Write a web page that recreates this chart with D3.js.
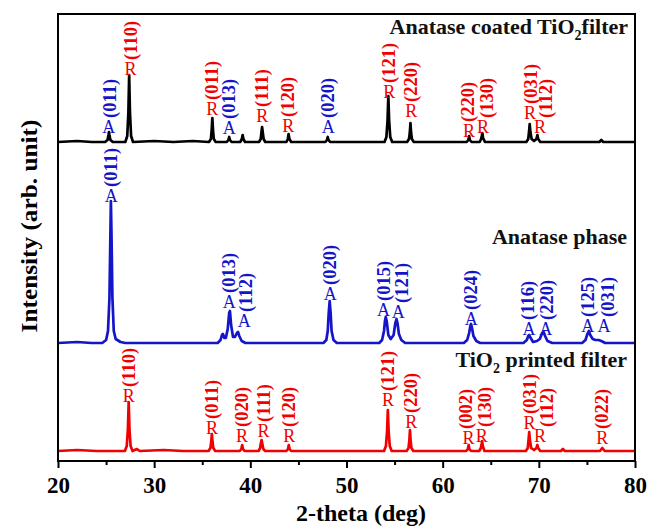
<!DOCTYPE html>
<html>
<head>
<meta charset="utf-8">
<script src="https://cdn.jsdelivr.net/npm/d3@7"></script>
<style>
  html, body { margin: 0; padding: 0; background: #ffffff; }
  svg { display: block; font-family: "Liberation Serif", "Times New Roman", serif; }
</style>
</head>
<body>
<svg id="chart" width="650" height="527"></svg>
<script>
// ---------------- DATA ----------------
const xTicks = [20, 30, 40, 50, 60, 70, 80];
const xMinorTicks = [25, 35, 45, 55, 65, 75];
const seriesNames = ["Anatase coated TiO2 filter", "Anatase phase", "TiO2 printed filter"];

// Intensity (arb. unit) vs 2-theta, each relative to its own baseline
const coatedPattern = [
  [20,0],[22,1],[23.5,0],
  [24.9,0],[25.15,2],[25.25,7],[25.3,10],[25.35,7],[25.45,2],[25.7,0],
  [27.0,0],[27.2,6],[27.32,30],[27.4,67],[27.48,30],[27.6,6],[27.8,0],
  [30,1],[32,0],[34,1],
  [35.7,0],[35.9,3],[35.98,12],[36.05,24],[36.12,12],[36.2,3],[36.4,0],
  [37.55,0],[37.72,2],[37.8,5],[37.88,2],[38.05,0],
  [38.95,0],[39.12,3],[39.2,7],[39.28,3],[39.45,0],
  [40.9,0],[41.08,3],[41.15,9],[41.22,15],[41.3,9],[41.38,3],[41.55,0],
  [43.75,0],[43.9,3],[43.98,8],[44.06,3],[44.25,0],
  [47.8,0],[47.97,2],[48.05,5],[48.13,2],[48.3,0],
  [53.95,0],[54.15,5],[54.27,22],[54.35,46],[54.43,22],[54.55,5],[54.75,0],
  [56.3,0],[56.5,3],[56.58,9],[56.65,19],[56.72,9],[56.8,3],[57.0,0],
  [62.5,0],[62.67,2],[62.75,6],[62.83,2],[63.0,0],
  [63.85,0],[64.0,3],[64.07,6],[64.12,9],[64.2,4],[64.4,0],
  [68.7,0],[68.9,3],[68.98,10],[69.05,18],[69.12,10],[69.25,3],[69.5,1],[69.75,3],[69.85,7],[69.93,3],[70.15,0],
  [76.3,0],[76.5,2],[76.7,0],
  [80,0]
];

const anatasePattern = [
  [20,0],[22,1],[23.5,0],
  [24.6,0],[25.0,3],[25.2,12],[25.35,45],[25.45,110],[25.5,142],[25.56,110],[25.66,45],[25.8,12],[26.0,4],[26.5,1],[27,0],
  [36.6,0],[36.9,3],[37.05,8],[37.15,9],[37.3,5],[37.45,5],[37.65,14],[37.8,30],[37.88,32],[38.0,18],[38.2,6],[38.4,6],[38.6,10],[38.72,11],[38.85,7],[39.1,2],[39.5,0],
  [47.6,0],[47.9,3],[48.05,12],[48.15,30],[48.25,42],[48.35,30],[48.45,12],[48.65,3],[49.0,0],
  [53.4,0],[53.7,3],[53.9,12],[54.0,22],[54.08,26],[54.18,22],[54.35,8],[54.6,4],[54.9,8],[55.08,20],[55.2,24],[55.3,20],[55.45,9],[55.7,3],[56.1,0],
  [62.2,0],[62.55,3],[62.75,10],[62.88,17],[62.95,19],[63.05,15],[63.2,7],[63.5,2],[63.9,0],
  [68.4,0],[68.75,3],[68.9,7],[69.0,8],[69.15,5],[69.4,1],[69.8,2],
  [70.1,4],[70.35,10],[70.5,11],[70.65,7],[70.9,2],[71.4,0],
  [74.5,0],[74.85,3],[75.05,9],[75.2,12],[75.35,8],[75.6,4],[75.9,3],[76.2,3],[76.5,2],[76.9,0],
  [80,0]
];

const printedPattern = [
  [20,0],[22,1],[24,0],
  [26.95,0],[27.15,5],[27.27,22],[27.35,49],[27.43,22],[27.55,5],[27.75,0],
  [28.2,2],[28.5,0],[31,1],[33,0],
  [35.65,0],[35.85,3],[35.93,9],[36.0,17],[36.07,9],[36.15,3],[36.35,0],
  [38.9,0],[39.07,2],[39.15,6],[39.23,2],[39.4,0],
  [40.85,0],[41.02,3],[41.1,8],[41.17,11],[41.25,7],[41.35,2],[41.55,0],
  [43.75,0],[43.92,2],[44.0,6],[44.08,2],[44.25,0],
  [53.9,0],[54.1,5],[54.22,20],[54.3,41],[54.38,20],[54.5,5],[54.7,0],
  [56.25,0],[56.45,3],[56.53,10],[56.6,21],[56.67,10],[56.75,3],[56.95,0],
  [62.45,0],[62.62,2],[62.7,6],[62.78,2],[62.95,0],
  [63.8,0],[63.97,3],[64.05,7],[64.1,10],[64.17,5],[64.35,0],
  [68.65,0],[68.85,3],[68.93,11],[69.0,19],[69.07,11],[69.2,3],[69.5,1],[69.75,3],[69.85,6],[69.93,3],[70.15,0],
  [72.3,0],[72.5,2],[72.7,0],
  [76.35,0],[76.6,3],[76.85,0],
  [80,0]
];

// Peak annotations: [hkl, phase, 2-theta of letter, intensity level of letter, 2-theta of hkl label]
const coatedLabels = [
  ["(011)","A",25.28,9,25.35],
  ["(110)","R",27.53,67,27.53],
  ["(011)","R",36.05,27,36.05],
  ["(013)","A",37.82,8,37.82],
  ["(111)","R",41.25,20,41.25],
  ["(120)","R",43.95,10,43.95],
  ["(020)","A",48.1,9,48.1],
  ["(121)","R",54.44,44,54.44],
  ["(220)","R",56.73,25,56.73],
  ["(220)","R",62.75,5,62.65],
  ["(130)","R",64.2,9,64.6],
  ["(031)","R",69.09,23,69.2],
  ["(112)","R",70.13,9,70.72]
];
const anataseLabels = [
  ["(011)","A",25.53,141,25.53],
  ["(013)","A",37.82,35,37.82],
  ["(112)","A",39.38,16,39.58],
  ["(020)","A",48.31,43,48.31],
  ["(015)","A",53.85,27,53.85],
  ["(121)","A",55.38,25,55.76],
  ["(024)","A",62.96,18,62.96],
  ["(116)","A",68.99,8,68.85],
  ["(220)","A",70.72,8,70.83],
  ["(125)","A",75.09,11,75.12],
  ["(031)","A",76.78,11,77.16]
];
const printedLabels = [
  ["(110)","R",27.36,49,27.36],
  ["(011)","R",36.02,17,36.02],
  ["(020)","R",39.14,9,39.14],
  ["(111)","R",41.38,14,41.38],
  ["(120)","R",44.05,9,44.05],
  ["(121)","R",54.31,45,54.31],
  ["(220)","R",56.73,23,56.73],
  ["(002)","R",62.68,7,62.41],
  ["(130)","R",64.07,9,64.34],
  ["(031)","R",69.02,22,69.02],
  ["(112)","R",70.13,9,70.83],
  ["(022)","R",76.6,7,76.6]
];

// ---------------- DRAWING ----------------
const svg = d3.select("#chart");
const W = 650, H = 527;
const m = {left: 58, right: 15, top: 14, bottom: 66};
const pw = W - m.left - m.right, ph = H - m.top - m.bottom;

svg.append("rect").attr("width", W).attr("height", H).attr("fill", "#ffffff");

const x = d3.scaleLinear().domain([20, 80]).range([m.left, m.left + pw]);
const y = d3.scaleLinear().domain([0, ph]).range([m.top + ph, m.top]);

const blue = "#1414c8", red = "#f00000";
const phaseColor = {A: blue, R: red};

const series = [
  {data: coatedPattern, labels: coatedLabels, color: "#000000", base: 319},
  {data: anatasePattern, labels: anataseLabels, color: blue, base: 118},
  {data: printedPattern, labels: printedLabels, color: red, base: 10}
];

svg.append("clipPath").attr("id", "clip")
  .append("rect").attr("x", m.left).attr("y", m.top).attr("width", pw).attr("height", ph);

series.forEach(s => {
  const line = d3.line().x(d => x(d[0])).y(d => y(d[1] + s.base)).curve(d3.curveLinear);
  svg.append("path").datum(s.data)
    .attr("d", line)
    .attr("fill", "none")
    .attr("stroke", s.color)
    .attr("stroke-width", 2.7)
    .attr("stroke-linejoin", "round")
    .attr("clip-path", "url(#clip)");
});

series.forEach(s => {
  const g = svg.append("g");
  s.labels.forEach(l => {
    const [hkl, ph_, at, level, hklAt] = l;
    const c = phaseColor[ph_];
    const ly = y(level + s.base);
    g.append("text")
      .attr("x", x(at)).attr("y", ly)
      .attr("text-anchor", "middle")
      .attr("font-size", 18)
      .attr("fill", c)
      .text(ph_);
    g.append("text")
      .attr("transform", `translate(${x(hklAt)},${ly - 15}) rotate(-90)`)
      .attr("text-anchor", "start")
      .attr("dy", "0.33em")
      .attr("font-size", 18.5)
      .attr("font-weight", "bold")
      .attr("fill", c)
      .text(hkl);
  });
});

// Series titles
function title(xr, yb, parts) {
  const t = svg.append("text").attr("x", xr).attr("y", yb)
    .attr("text-anchor", "end").attr("font-size", 22).attr("font-weight", "bold").attr("fill", "#111");
  parts.forEach(p => {
    const ts = t.append("tspan").text(p.t);
    if (p.sub) ts.attr("font-size", 14).attr("dy", 6);
    if (p.after) ts.attr("dy", -6);
  });
}
title(628, 34, [{t: "Anatase coated TiO"}, {t: "2", sub: true}, {t: "filter", after: true}]);
title(627, 244, [{t: "Anatase phase"}]);
title(627, 367, [{t: "TiO"}, {t: "2", sub: true}, {t: " printed filter", after: true}]);

// Frame
svg.append("rect")
  .attr("x", m.left).attr("y", m.top).attr("width", pw).attr("height", ph)
  .attr("fill", "none").attr("stroke", "#000").attr("stroke-width", 2);

// X axis
const xAxis = d3.axisBottom(x).tickValues(xTicks).tickSize(7).tickPadding(9).tickFormat(d3.format("d"));
const gx = svg.append("g").attr("transform", `translate(0,${m.top + ph})`).call(xAxis);
gx.select(".domain").remove();
gx.selectAll(".tick line").attr("stroke", "#000").attr("stroke-width", 2);
gx.selectAll(".tick text").attr("font-family", "Liberation Serif, serif")
  .attr("font-size", 23).attr("font-weight", "bold").attr("fill", "#000");

const gxm = svg.append("g").attr("transform", `translate(0,${m.top + ph})`)
  .call(d3.axisBottom(x).tickValues(xMinorTicks).tickSize(4).tickFormat(""));
gxm.select(".domain").remove();
gxm.selectAll(".tick line").attr("stroke", "#000").attr("stroke-width", 2);

// Axis titles
svg.append("text")
  .attr("x", 361).attr("y", 521)
  .attr("text-anchor", "middle")
  .attr("font-size", 24).attr("font-weight", "bold").attr("fill", "#000")
  .text("2-theta (deg)");

svg.append("text")
  .attr("transform", "translate(37,226) rotate(-90) scale(1.1,1)")
  .attr("text-anchor", "middle")
  .attr("font-size", 23).attr("font-weight", "bold").attr("fill", "#000")
  .text("Intensity (arb. unit)");
</script>
</body>
</html>
